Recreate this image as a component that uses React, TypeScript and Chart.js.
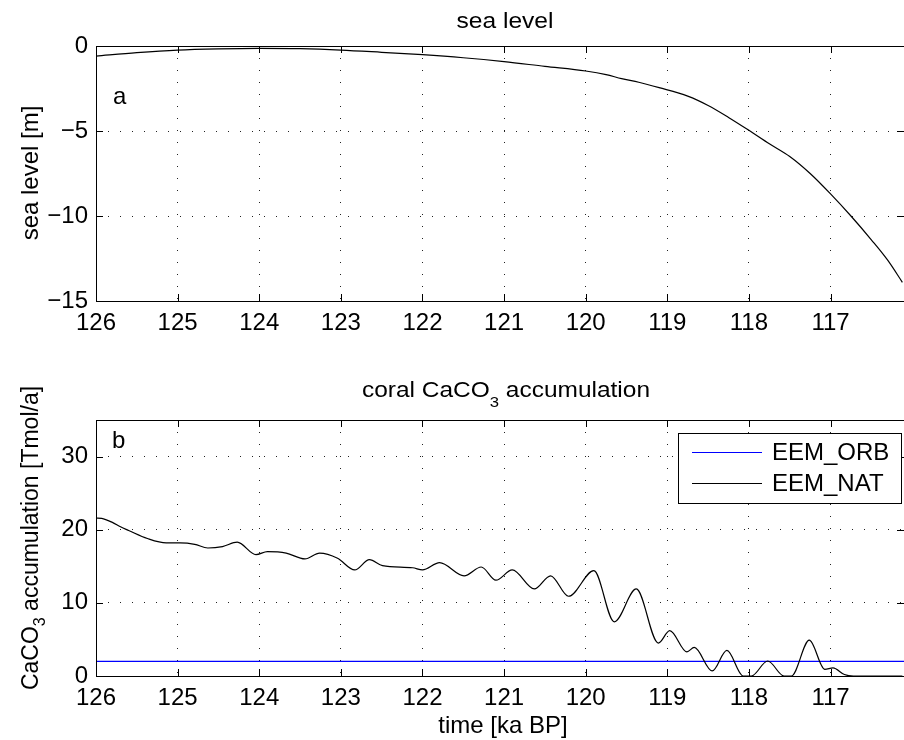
import React, { useEffect, useRef } from 'react';
import { Chart, registerables } from 'chart.js';
Chart.register(...registerables);

// ---- data ----
const xTicks = [117, 118, 119, 120, 121, 122, 123, 124, 125, 126];
const seaTicks = [-15, -10, -5, 0];
const coralTicks = [0, 10, 20, 30];

const seaTime = [126, 125.5, 125, 124.5, 124, 123.5, 123, 122.5, 122, 121.5, 121, 120.5, 120, 119.75, 119.56, 119.35, 119.1, 118.75, 118.5, 118.25, 118, 117.75, 117.5, 117.25, 117, 116.75, 116.5, 116.3, 116.12];
const seaLevel = [-0.59, -0.39, -0.24, -0.17, -0.14, -0.16, -0.24, -0.37, -0.51, -0.69, -0.92, -1.2, -1.47, -1.68, -1.92, -2.13, -2.45, -2.95, -3.5, -4.2, -4.96, -5.75, -6.5, -7.5, -8.7, -10.0, -11.4, -12.6, -13.9];

const coralTime = [126, 125.93, 125.8, 125.7, 125.6, 125.37, 125.14, 124.97, 124.79, 124.63, 124.45, 124.27, 124.04, 123.9, 123.67, 123.44, 123.26, 123.04, 122.83, 122.65, 122.49, 122.12, 122.0, 121.79, 121.49, 121.28, 121.1, 120.9, 120.63, 120.43, 120.21, 119.9, 119.65, 119.38, 119.11, 118.97, 118.76, 118.67, 118.45, 118.27, 118.07, 117.97, 117.77, 117.57, 117.48, 117.26, 117.07, 116.97, 116.83, 116.72, 116.12];
const coralNat = [21.6, 21.55, 21.0, 20.4, 19.9, 18.8, 18.2, 18.2, 18.0, 17.5, 17.7, 18.3, 16.6, 17.0, 16.8, 16.0, 16.8, 16.1, 14.5, 15.9, 15.1, 14.8, 14.5, 15.5, 13.7, 14.9, 13.1, 14.5, 11.9, 13.7, 10.9, 14.4, 7.4, 11.9, 4.5, 6.2, 3.3, 3.9, 0.7, 3.5, 0, 0, 2.05, 0, 0, 4.9, 0.9, 1.1, 0.2, 0, 0];
const orbTime = [126, 116.1];
const coralOrb = [2.0, 2.0];

const FONT = '"Liberation Sans", Arial, Helvetica, sans-serif';
const X_MIN = 116.1;
const X_MAX = 126;

const pts = (xs: number[], ys: number[]) => xs.map((x, i) => ({ x, y: ys[i] }));
const fmt = (v: number) => (v < 0 ? '\u2212' + Math.abs(v) : String(v));

type Part = { t: string; size: number; dy: number };

function setFont(ctx: CanvasRenderingContext2D, size: number) {
  ctx.font = `${size}px ${FONT}`;
}

function stretchedParts(ctx: CanvasRenderingContext2D, parts: Part[], cx: number, y: number, targetW: number) {
  let w = 0;
  const widths = parts.map(p => { setFont(ctx, p.size); const m = ctx.measureText(p.t).width; w += m; return m; });
  const s = targetW / w;
  ctx.save();
  ctx.translate(cx - targetW / 2, y);
  ctx.scale(s, 1);
  let x = 0;
  parts.forEach((p, i) => {
    setFont(ctx, p.size);
    ctx.textAlign = 'left';
    ctx.textBaseline = 'alphabetic';
    ctx.fillText(p.t, x, p.dy);
    x += widths[i];
  });
  ctx.restore();
}

function rotatedParts(ctx: CanvasRenderingContext2D, parts: Part[], bx: number, cy: number) {
  let w = 0;
  const widths = parts.map(p => { setFont(ctx, p.size); const m = ctx.measureText(p.t).width; w += m; return m; });
  ctx.save();
  ctx.translate(bx, cy);
  ctx.rotate(-Math.PI / 2);
  let x = -w / 2;
  parts.forEach((p, i) => {
    setFont(ctx, p.size);
    ctx.textAlign = 'left';
    ctx.textBaseline = 'alphabetic';
    ctx.fillText(p.t, x, p.dy);
    x += widths[i];
  });
  ctx.restore();
}

function makeFramePlugin(deco: (ctx: CanvasRenderingContext2D, chart: any) => void) {
  return {
    id: 'frame',
    afterDraw(chart: any) {
      const ctx: CanvasRenderingContext2D = chart.ctx;
      const a = chart.chartArea;
      const scales = chart.scales;
      ctx.save();
      ctx.strokeStyle = '#000';
      ctx.lineWidth = 1;
      ctx.strokeRect(Math.round(a.left) + 0.5, Math.round(a.top) + 0.5, Math.round(a.right - a.left), Math.round(a.bottom - a.top));
      const tl = 7;
      ctx.beginPath();
      scales.x.ticks.forEach((t: any) => {
        const px = Math.round(scales.x.getPixelForValue(t.value)) + 0.5;
        ctx.moveTo(px, a.bottom); ctx.lineTo(px, a.bottom - tl);
        ctx.moveTo(px, a.top); ctx.lineTo(px, a.top + tl);
      });
      scales.y.ticks.forEach((t: any) => {
        const py = Math.round(scales.y.getPixelForValue(t.value)) + 0.5;
        ctx.moveTo(a.left, py); ctx.lineTo(a.left + tl, py);
        ctx.moveTo(a.right, py); ctx.lineTo(a.right - tl, py);
      });
      ctx.stroke();
      deco(ctx, chart);
      ctx.restore();
    },
  };
}

function baseOptions(yMin: number, yMax: number, yTicks: number[], padTop: number, xHeight: number) {
  return {
    responsive: false,
    animation: false as const,
    events: [],
    layout: { padding: { top: padTop, left: 0, right: 0, bottom: 0 } },
    plugins: { legend: { display: false }, tooltip: { enabled: false }, title: { display: false } },
    scales: {
      x: {
        type: 'linear' as const,
        reverse: true,
        min: X_MIN,
        max: X_MAX,
        afterBuildTicks: (s: any) => { s.ticks = xTicks.map(v => ({ value: v })); },
        afterFit: (s: any) => { s.height = xHeight; },
        ticks: { color: '#000', font: { family: FONT, size: 24 }, padding: 8, maxRotation: 0, autoSkip: false, callback: (v: any) => fmt(Number(v)) },
        grid: { color: '#222', lineWidth: 1, drawTicks: false, borderDash: [1, 11] },
        border: { display: false, dash: [1, 11] },
      },
      y: {
        type: 'linear' as const,
        min: yMin,
        max: yMax,
        afterBuildTicks: (s: any) => { s.ticks = yTicks.map(v => ({ value: v })); },
        afterFit: (s: any) => { s.width = 96; },
        ticks: { color: '#000', font: { family: FONT, size: 24 }, padding: 8, autoSkip: false, callback: (v: any) => fmt(Number(v)) },
        grid: { color: '#222', lineWidth: 1, drawTicks: false, borderDash: [1, 11] },
        border: { display: false, dash: [1, 11] },
      },
    },
  };
}

function SeaChart() {
  const ref = useRef<HTMLCanvasElement>(null);
  useEffect(() => {
    const deco = (ctx: CanvasRenderingContext2D) => {
      ctx.fillStyle = '#000';
      stretchedParts(ctx, [{ t: 'sea level', size: 22, dy: 0 }], 505, 28, 97);
      rotatedParts(ctx, [{ t: 'sea level [m]', size: 24, dy: 0 }], 38, 173);
      setFont(ctx, 24);
      ctx.textAlign = 'left';
      ctx.textBaseline = 'alphabetic';
      ctx.fillText('a', 113, 104);
    };
    const chart = new Chart(ref.current!, {
      type: 'line',
      data: {
        datasets: [{
          label: 'sea level',
          data: pts(seaTime, seaLevel),
          borderColor: '#000',
          borderWidth: 1.2,
          pointRadius: 0,
          cubicInterpolationMode: 'monotone',
        }],
      },
      options: baseOptions(-15, 0, seaTicks, 46, 69) as any,
      plugins: [makeFramePlugin(deco)],
    });
    return () => chart.destroy();
  }, []);
  return <canvas ref={ref} width={904} height={370} style={{ display: 'block', width: 904, height: 370 }} />;
}

function CoralChart() {
  const ref = useRef<HTMLCanvasElement>(null);
  useEffect(() => {
    const deco = (ctx: CanvasRenderingContext2D, chart: any) => {
      ctx.fillStyle = '#000';
      stretchedParts(ctx, [
        { t: 'coral CaCO', size: 22, dy: 0 },
        { t: '3', size: 15, dy: 10 },
        { t: ' accumulation', size: 22, dy: 0 },
      ], 506, 27, 288);
      rotatedParts(ctx, [
        { t: 'CaCO', size: 23, dy: 0 },
        { t: '3', size: 16, dy: 7 },
        { t: ' accumulation [Tmol/a]', size: 23, dy: 0 },
      ], 38, 168);
      setFont(ctx, 24);
      ctx.textAlign = 'center';
      ctx.textBaseline = 'alphabetic';
      ctx.fillText('time [ka BP]', 503, 363);
      ctx.textAlign = 'left';
      ctx.fillText('b', 112, 78);
      // legend
      const lx = 678, ly = 63, lw = 223, lh = 70;
      ctx.fillStyle = '#fff';
      ctx.fillRect(lx, ly, lw, lh);
      ctx.strokeStyle = '#000';
      ctx.lineWidth = 1;
      ctx.strokeRect(lx + 0.5, ly + 0.5, lw, lh);
      const rows = [82.5, 113.5];
      chart.data.datasets.slice().reverse().forEach((ds: any, i: number) => {
        const y = rows[i];
        ctx.strokeStyle = ds.borderColor;
        ctx.lineWidth = 1;
        ctx.beginPath();
        ctx.moveTo(692, y);
        ctx.lineTo(762, y);
        ctx.stroke();
        ctx.fillStyle = '#000';
        setFont(ctx, 24);
        ctx.textAlign = 'left';
        ctx.textBaseline = 'middle';
        ctx.fillText(ds.label, 772, y + 1);
      });
    };
    const chart = new Chart(ref.current!, {
      type: 'line',
      data: {
        datasets: [
          {
            label: 'EEM_NAT',
            data: pts(coralTime, coralNat),
            borderColor: '#000',
            borderWidth: 1.2,
            pointRadius: 0,
            cubicInterpolationMode: 'monotone',
          },
          {
            label: 'EEM_ORB',
            data: pts(orbTime, coralOrb),
            borderColor: '#0000ff',
            borderWidth: 1.2,
            pointRadius: 0,
          },
        ],
      },
      options: baseOptions(0, 35, coralTicks, 50, 64) as any,
      plugins: [makeFramePlugin(deco)],
    });
    return () => chart.destroy();
  }, []);
  return <canvas ref={ref} width={904} height={370} style={{ display: 'block', width: 904, height: 370 }} />;
}

export default function App() {
  return (
    <div style={{ position: 'absolute', left: 0, top: 0, width: 904, height: 740, background: '#fff' }}>
      <SeaChart />
      <CoralChart />
    </div>
  );
}
